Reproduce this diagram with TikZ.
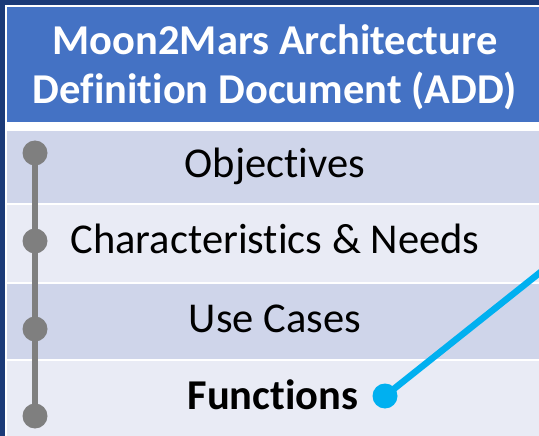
\documentclass[tikz,border=0pt]{standalone}
\usepackage{fontspec}
\setmainfont{Carlito}[Ligatures=NoCommon]
\definecolor{navy}{HTML}{1B3A78}
\definecolor{hdblue}{HTML}{4472C4}
\definecolor{rowdark}{HTML}{CFD5EA}
\definecolor{rowlight}{HTML}{E9EBF5}
\definecolor{railgray}{HTML}{7F7F7F}
\definecolor{linkblue}{HTML}{00B0F0}
\begin{document}
\begin{tikzpicture}[x=1pt,y=-1pt,
  hdtext/.style={text=white,font=\fontsize{42.5}{48}\selectfont\bfseries,anchor=base,inner sep=0pt},
  rowtext/.style={text=black,font=\fontsize{42.5}{48}\selectfont,anchor=base,inner sep=0pt},
  raildot/.style={circle,fill=railgray,minimum size=25pt,inner sep=0pt},
  linkdot/.style={circle,fill=linkblue,minimum size=25pt,inner sep=0pt}]
\useasboundingbox (0,0) rectangle (539,436);
\clip (0,0) rectangle (539,436);
\fill[navy] (0,0) rectangle (539,436);
\fill[white] (5,5) rectangle (545,440);
\fill[hdblue] (7,7) rectangle (545,122);
\fill[rowdark] (7,131) rectangle (545,203);
\fill[rowlight] (7,205) rectangle (545,282);
\fill[rowdark] (7,284) rectangle (545,359);
\fill[rowlight] (7,361) rectangle (545,440);
\node[hdtext] (hdA) at (275,55) {Moon2Mars Architecture};
\node[hdtext] (hdB) at (275,103) {Definition Document (ADD)};
\node[rowtext] (obj) at (275,177) {Objectives};
\node[rowtext] (chr) at (275,253) {Characteristics \& Needs};
\node[rowtext] (use) at (275,332) {Use Cases};
\node[rowtext,font=\fontsize{42.5}{48}\selectfont\bfseries] (fun) at (273,409) {Functions};
\node[raildot] (d1) at (35,153) {};
\node[raildot] (d2) at (35,241) {};
\node[raildot] (d3) at (35,329) {};
\node[raildot] (d4) at (35,416) {};
\draw[railgray,line width=6.5pt] (d1.center) -- (d4.center);
\node[linkdot] (ld) at (385,396) {};
\coordinate (lend) at (552,263);
\draw[linkblue,line width=6.5pt] (ld.center) -- (lend);
\end{tikzpicture}
\end{document}
